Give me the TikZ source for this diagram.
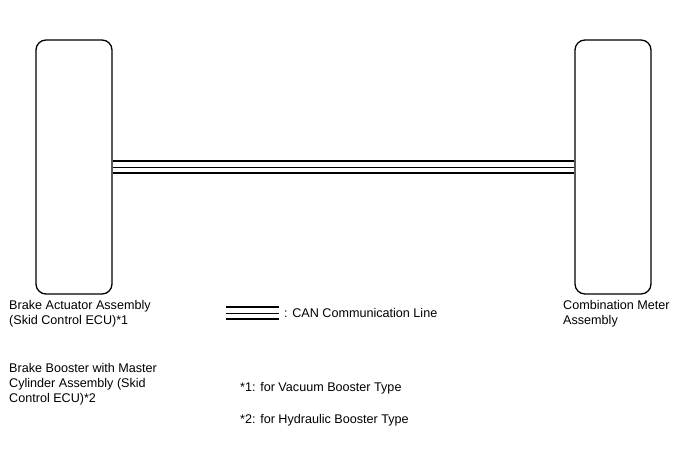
\documentclass[tikz,border=0pt]{standalone}
\usepackage{fontspec}
\setmainfont{Liberation Sans}
\usetikzlibrary{positioning}

\begin{document}
\begin{tikzpicture}[x=1pt, y=-1pt,
  ecubox/.style={rectangle, draw=black, rounded corners=10pt, line width=1.3pt,
    minimum width=76pt, minimum height=254pt, inner sep=0pt},
  lbl/.style={align=left, inner sep=0pt, anchor=north west,
    font=\fontsize{12.6}{15.2}\selectfont},
  canwire/.style={line width=1.6pt, draw=black},
  canmid/.style={line width=0.8pt, draw=black}
]
\useasboundingbox (0,0) rectangle (688,463);

\node[ecubox] (actuator) at (74,167) {};
\node[ecubox] (meter) at (613,167) {};

% CAN bus between the ECUs
\draw[canwire] ([yshift=6pt]actuator.east) -- ([yshift=6pt]meter.west);
\draw[canmid] (actuator.east) -- (meter.west);
\draw[canwire] ([yshift=-6pt]actuator.east) -- ([yshift=-6pt]meter.west);

\node[lbl] (actlbl) at (9,300) {Brake Actuator Assembly\\(Skid Control ECU)*1};
\node[lbl] (boostlbl) at (9,363) {Brake Booster with Master\\Cylinder Assembly (Skid\\Control ECU)*2};
\node[lbl] (meterlbl) at (563,300) {Combination Meter\\Assembly};

% legend
\coordinate (lgA) at (226,313);
\coordinate (lgB) at (279,313);
\draw[canwire] ([yshift=-6pt]lgA) -- ([yshift=-6pt]lgB);
\draw[canmid] (lgA) -- (lgB);
\draw[canwire] ([yshift=6pt]lgA) -- ([yshift=6pt]lgB);
\node[lbl, anchor=west] (canlbl) at (284,313) {: CAN Communication Line};

\node[lbl] (note1) at (240,382) {*1: for Vacuum Booster Type};
\node[lbl] (note2) at (240,414) {*2: for Hydraulic Booster Type};

\end{tikzpicture}
\end{document}
